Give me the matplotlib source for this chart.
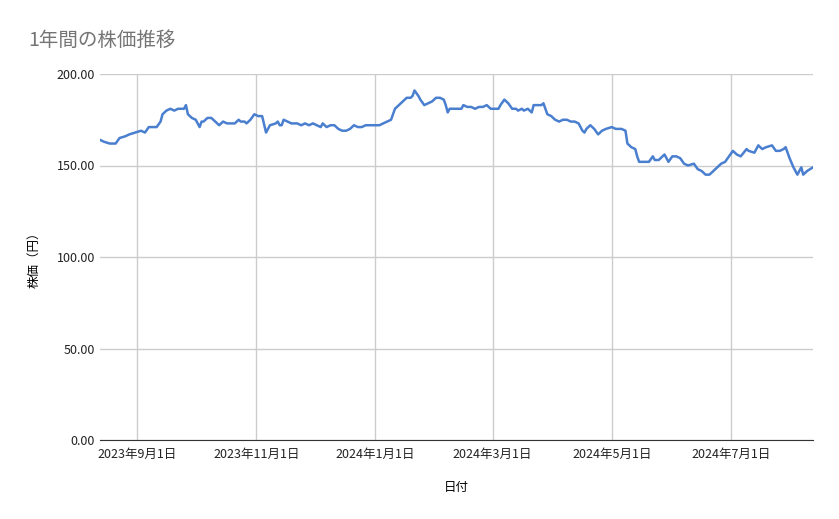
import matplotlib
matplotlib.use("Agg")
import matplotlib.pyplot as plt
import matplotlib.dates as mdates
import numpy as np
import datetime as dt

plt.rcParams['font.family'] = ['Noto Sans CJK JP', 'DejaVu Sans']

start = dt.date(2023, 8, 13)
day_offsets = [0,2,5,8,10,13,15,18,21,23,25,27,29,31,32,34,36,38,40,43,44,45,47,49,51,52,53,55,57,59,61,63,65,67,69,71,72,74,75,77,79,81,83,85,87,90,91,92,93,94,96,98,101,103,105,107,109,111,113,114,116,118,120,122,124,126,128,130,132,134,136,138,141,143,145,147,149,151,153,155,157,159,160,161,163,164,166,168,170,172,174,176,177,178,179,182,185,186,188,190,192,194,196,198,200,202,204,205,207,209,211,213,214,216,217,219,221,222,224,226,227,229,231,233,235,237,239,241,243,245,247,248,249,251,253,255,257,259,262,264,267,269,270,272,274,275,276,279,281,283,284,286,288,289,291,293,295,297,299,301,304,306,308,310,312,314,316,318,320,322,324,326,328,331,332,335,337,339,341,344,346,348,350,351,353,355,357,359,360,362,365]
prices = [164,163,162,162,165,166,167,168,169,168,171,171,171,174,178,180,181,180,181,181,183,178,176,175,171,174,174,176,176,174,172,174,173,173,173,175,174,174,173,175,178,177,177,168,172,173,174,172,172,175,174,173,173,172,173,172,173,172,171,173,171,172,172,170,169,169,170,172,171,171,172,172,172,172,173,174,175,181,183,185,187,187,188,191,188,186,183,184,185,187,187,186,183,179,181,181,181,183,182,182,181,182,182,183,181,181,181,183,186,184,181,181,180,181,180,181,179,183,183,183,184,178,177,175,174,175,175,174,174,173,169,168,170,172,170,167,169,170,171,170,170,169,162,160,159,155,152,152,152,155,153,153,155,156,152,155,155,154,151,150,151,148,147,145,145,147,149,151,152,155,158,156,155,159,158,157,161,159,160,161,158,158,159,160,154,149,145,149,145,147,149]
dates = [start + dt.timedelta(days=d) for d in day_offsets]
tick_dates = [dt.date(2023,9,1), dt.date(2023,11,1), dt.date(2024,1,1), dt.date(2024,3,1), dt.date(2024,5,1), dt.date(2024,7,1)]
tick_labels = [f"{d.year}年{d.month}月{d.day}日" for d in tick_dates]

fig = plt.figure(figsize=(8.39, 5.19), dpi=100)
ax = fig.add_axes([100/839, 1-440/519, 713/839, 366/519])
ax.plot(dates, prices, color='#4a7fcf', lw=1.8)
ax.set_xlim(start, start + dt.timedelta(days=365))
ax.set_ylim(0, 200)
ax.set_yticks(np.arange(0, 201, 50))
ax.set_yticklabels([f"{v:.2f}" for v in np.arange(0, 201, 50)])
ax.set_xticks(tick_dates)
ax.set_xticklabels(tick_labels)
ax.grid(True, color='#cccccc', lw=1)
ax.set_axisbelow(True)
for s in ['top', 'right', 'left']:
    ax.spines[s].set_visible(False)
ax.spines['bottom'].set_color('#333333')
ax.tick_params(length=0, labelsize=9, colors='#222222')
ax.tick_params(axis='x', pad=6)
ax.set_xlabel('日付', fontsize=9, labelpad=14)
ax.set_ylabel('株価（円）', fontsize=9, labelpad=12)
fig.text(28/839, 1-40/519, '1年間の株価推移', fontsize=14, color='#757575', va='center')
fig.savefig('out.png', dpi=100)
